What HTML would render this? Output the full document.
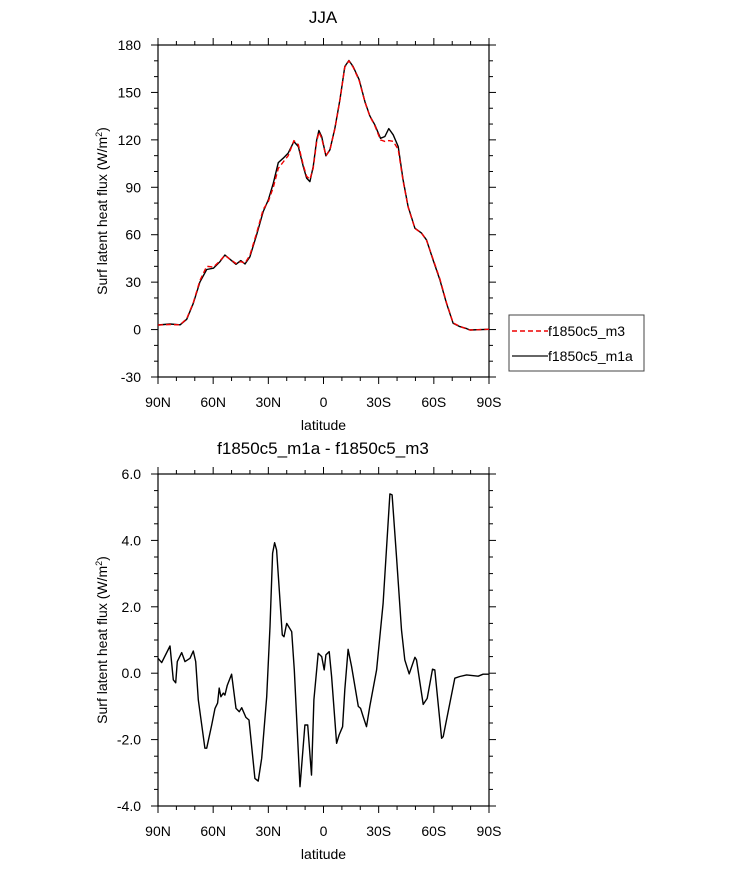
<!DOCTYPE html>
<html><head><meta charset="utf-8"><style>
body{margin:0;background:#fff;}
svg{display:block;font-family:"Liberation Sans",Arial,sans-serif;}
</style></head><body>
<svg id="chart" width="733" height="869" xmlns="http://www.w3.org/2000/svg"></svg>
<script>
const lats1=[90,83.5,78,74.4,70.8,67.2,63.5,59.9,56.3,53.6,50.9,47.6,45,42.7,40,36.4,32.8,30,27.3,24.6,21.9,19.2,16.1,13.7,11,9.2,7.4,5.6,3.7,2.5,1,-1.3,-3.5,-6.2,-8.9,-11.6,-13.8,-16.1,-19.4,-22.5,-25.2,-27.9,-31,-33.4,-35.5,-37.9,-40.6,-43.3,-46,-49.7,-53.3,-56,-59.6,-63.3,-66.9,-70.5,-74.1,-77.8,-79.6,-90];
const m1a=[2.9,3.5,3,6.5,16.6,30,38,38.8,43,47.2,44.5,41.3,43.6,41.5,46,59.9,74.6,82,92.6,105.6,108.4,111.6,118.9,115.8,103,95.8,93.6,103,120,125.9,122,109.9,113.7,127.4,145.3,166.4,170.2,166.4,158,144.2,135.2,129.5,121,122.1,127.1,123.2,115.8,94.7,77.8,64.1,61,56.7,44,31.4,16.6,4,1.9,0.6,-0.3,0.2];
const m3=[2.9,3.2,3,6.8,17,31,40,39.5,43.5,47,44.5,41.8,43,42,47,61,76,81,90,102,106,110,119.5,117,104,97,95,102,119,125,121,110,113.5,127,145,166,170,166,157.5,144,135,129,120,119,119.5,119,114,94,77.5,64,61,56.5,44.5,32,17,4.2,2,0.4,-0.3,0.2];
const lats2=[90,88,83.5,81.7,80.4,79.5,77.1,75.3,72.6,70.8,69.5,68.1,64.5,63.5,60.8,59,57.6,56.7,55.8,54.5,53.6,52.3,50,47.6,45.8,44.5,42.2,40.5,37.3,35.5,33.6,30.9,29.1,27.7,26.6,25.5,22.4,21.5,20,17.3,15.9,12.8,10.1,8.6,6.5,5.2,2.9,1,-0.4,-1.3,-3.1,-4.4,-7.1,-8.5,-10.4,-11.6,-13.4,-15.3,-18.9,-20.2,-21.6,-23.4,-25.2,-28.9,-32.4,-36.1,-37.3,-39.7,-42.4,-44.2,-46.6,-49.7,-50.6,-54.2,-56.4,-59.3,-60.5,-64.2,-65.1,-71.4,-74.1,-77.8,-84.1,-86.8,-90];
const diff=[0.45,0.32,0.82,-0.2,-0.29,0.35,0.62,0.35,0.45,0.67,0.35,-0.8,-2.26,-2.26,-1.56,-1.06,-0.9,-0.45,-0.71,-0.6,-0.66,-0.36,-0.03,-1.06,-1.16,-1.04,-1.33,-1.41,-3.17,-3.25,-2.56,-0.71,1.4,3.61,3.93,3.71,1.15,1.1,1.5,1.25,0.1,-3.42,-1.56,-1.56,-3.07,-0.8,0.6,0.5,0.1,0.55,0.65,-0.1,-2.11,-1.86,-1.61,-0.5,0.72,0.2,-1.0,-1.06,-1.31,-1.61,-1.0,0.1,2.1,5.4,5.37,3.51,1.3,0.4,-0.02,0.48,0.4,-0.94,-0.76,0.12,0.1,-1.96,-1.91,-0.15,-0.1,-0.05,-0.09,-0.03,-0.03];
const xTicks=[90,60,30,0,-30,-60,-90];
const xTickLabels=["90N","60N","30N","0","30S","60S","90S"];
const yTicks1=[-30,0,30,60,90,120,150,180];
const yTicks2=[-4,-2,0,2,4,6];
const yTickLabels2=["-4.0","-2.0","0.0","2.0","4.0","6.0"];

const svg=document.getElementById('chart');
const NS='http://www.w3.org/2000/svg';
function mk(tag,attrs,parent){const e=document.createElementNS(NS,tag);for(const k in attrs)e.setAttribute(k,attrs[k]);(parent||svg).appendChild(e);return e;}
const L=158,R=489;
const xs=lat=>L+(90-lat)/180*(R-L);

function panel(top,bot,ymin,ymax,yMajor,yMinorStep,yLabels,name){
  const ys=v=>bot-(v-ymin)/(ymax-ymin)*(bot-top);
  const g=mk('g',{});
  
  
  const box=mk('rect',{x:L,y:top,width:R-L,height:bot-top,fill:'none',stroke:'#000','stroke-width':1.2},g);
  
  
  for(let lat=90;lat>=-90;lat-=10){
    const major=lat%30===0; const len=major?7:4; const x=xs(lat);
    mk('line',{x1:x,x2:x,y1:bot,y2:bot+len,stroke:'#000','stroke-width':1},g);
    mk('line',{x1:x,x2:x,y1:top,y2:top-len,stroke:'#000','stroke-width':1},g);
  }
  xTicks.forEach((t,i)=>{const tx=mk('text',{x:xs(t),y:bot+30,'font-size':14,'text-anchor':'middle'},g);tx.textContent=xTickLabels[i];
    });
  for(let v=ymin;v<=ymax+1e-9;v+=yMinorStep){
    const major=yMajor.some(m=>Math.abs(m-v)<1e-6);const len=major?7:4;const y=ys(v);
    mk('line',{x1:L,x2:L-len,y1:y,y2:y,stroke:'#000','stroke-width':1},g);
    mk('line',{x1:R,x2:R+len,y1:y,y2:y,stroke:'#000','stroke-width':1},g);
  }
  yMajor.forEach((t,i)=>{const tx=mk('text',{x:L-17,y:ys(t)+5,'font-size':14,'text-anchor':'end'},g);tx.textContent=yLabels[i];
    });
  const xt=mk('text',{x:(L+R)/2,y:bot+53,'font-size':14,'text-anchor':'middle'},g);xt.textContent='latitude';
  
  const cy=(top+bot)/2;
  const yt=mk('text',{x:0,y:0,'font-size':14,'text-anchor':'middle',transform:`translate(107,${cy}) rotate(-90)`},g);
  yt.innerHTML='Surf latent heat flux (W/m<tspan dy="-5" font-size="9">2</tspan><tspan dy="5">)</tspan>';
  
  return {g,ys};
}
function line(g,lats,vals,ys,attrs,name){
  const d=lats.map((l,i)=>(i?'L':'M')+xs(l).toFixed(1)+','+ys(vals[i]).toFixed(1)).join('');
  const p=mk('path',Object.assign({d,fill:'none','stroke-linejoin':'round'},attrs),g);
  
  
}
const t1=mk('text',{x:323,y:23,'font-size':17,'text-anchor':'middle'});t1.textContent='JJA';

const p1=panel(45,377,-30,180,yTicks1,10,yTicks1.map(String),'top-panel');
line(p1.g,lats1,m1a,p1.ys,{stroke:'#000','stroke-width':1.4},'series-m1a');
line(p1.g,lats1,m3,p1.ys,{stroke:'#e00','stroke-width':1.4,'stroke-dasharray':'5,3'},'series-m3');
const t2=mk('text',{x:323,y:454,'font-size':17,'text-anchor':'middle'});t2.textContent='f1850c5_m1a - f1850c5_m3';

const p2=panel(474,806,-4,6,yTicks2,0.5,yTickLabels2,'bottom-panel');
line(p2.g,lats2,diff,p2.ys,{stroke:'#000','stroke-width':1.4},'series-diff');
const lg=mk('g',{});


mk('rect',{x:509,y:315,width:135,height:56,fill:'#fff',stroke:'#444','stroke-width':1},lg);
mk('line',{x1:512,x2:548,y1:331,y2:331,stroke:'#e00','stroke-width':1.4,'stroke-dasharray':'5,3'},lg);
const l1=mk('text',{x:548,y:336,'font-size':14},lg);l1.textContent='f1850c5_m3';

mk('line',{x1:512,x2:548,y1:356,y2:356,stroke:'#333','stroke-width':1.4},lg);
const l2=mk('text',{x:548,y:361,'font-size':14},lg);l2.textContent='f1850c5_m1a';

</script>
</body></html>
